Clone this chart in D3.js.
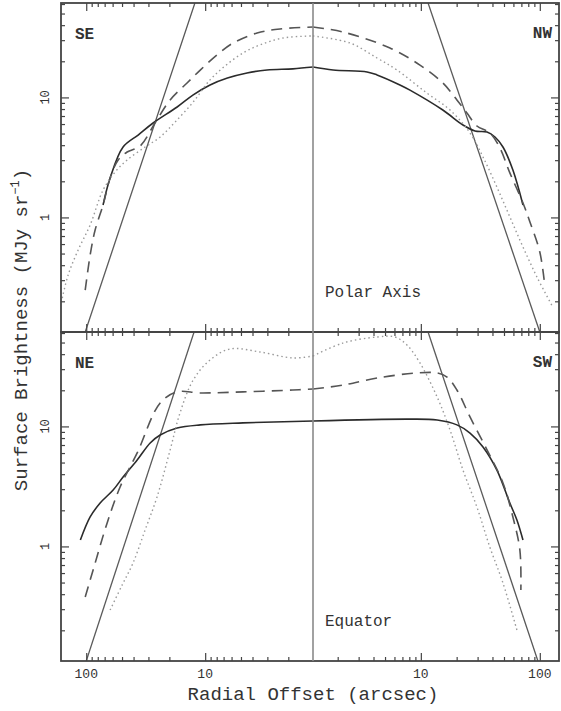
<!DOCTYPE html>
<html>
<head>
<meta charset="utf-8">
<script src="https://cdn.jsdelivr.net/npm/d3@7"></script>
<style>
  html, body { margin: 0; padding: 0; background: #fff; }
  svg { display: block; }
  text { font-family: "Liberation Mono", "DejaVu Sans Mono", monospace; fill: #333; }
</style>
</head>
<body>
<svg id="chart" width="561" height="711"></svg>
<script>
// ---------- DATA (radial offset arcsec, surface brightness MJy/sr) ----------
const xTickMajor = [10, 100];
const xTickLabels = ["10", "100"];
const yTickMajor = [1, 10];
const yTickLabels = ["1", "10"];
const panelNames = ["Polar Axis", "Equator"];
const sideNamesTop = ["SE", "NW"];
const sideNamesBottom = ["NE", "SW"];

// Polar axis, SE side (left)
const polarSolidSE = [[72.2,1.27],[63.0,2.13],[49.0,3.86],[36.6,4.86],[27.4,6.12],[17.2,8.32],[12.6,10.5],[9.1,12.7],[6.5,14.5],[4.45,16.0],[3.02,16.9],[1.83,17.3],[1.24,17.9]];
const polarDashedSE = [[102,0.248],[92.7,0.486],[84.2,0.785],[72.2,1.27],[63.0,2.13],[53.9,3.01],[45.3,3.51],[35.2,3.94],[26.4,6.12],[19.7,9.53],[14.2,13.2],[11.0,16.9],[7.94,22.6],[5.82,28.4],[3.66,34.4],[2.35,37.2],[1.24,38.6]];
const polarDottedSE = [[159,0.213],[142,0.331],[117,0.535],[92.7,0.865],[72.2,1.69],[57.2,2.39],[45.3,3.01],[32.0,3.86],[23.9,4.68],[17.9,6.24],[12.6,9.16],[9.1,14.0],[6.8,18.3],[4.8,23.5],[3.46,27.4],[2.21,31.3],[1.24,32.5]];
// Polar axis, NW side (right)
const polarSolidNW = [[1.24,17.9],[1.83,16.9],[3.53,16.3],[4.28,15.4],[6.67,12.7],[8.1,11.5],[15.3,7.85],[22.6,5.89],[28.5,5.25],[36.0,5.15],[42.0,4.68],[49.0,3.86],[59.4,2.48],[72.2,1.27]];
const polarDashedNW = [[1.24,38.6],[2.21,35.1],[5.5,25.8],[9.83,18.6],[15.3,13.2],[20.1,9.53],[24.4,7.41],[29.6,5.78],[38.0,5.06],[46.2,3.79],[56.0,2.35],[72.2,1.32],[82.6,0.917],[100,0.515],[110,0.274]];
const polarDottedNW = [[1.24,32.5],[2.54,28.4],[4.28,21.3],[6.3,16.9],[11.2,10.9],[17.6,7.85],[25.9,5.06],[33.3,3.19],[43.6,1.79],[56.0,1.01],[72.2,0.567],[94.6,0.319],[126,0.186]];
// Equator, NE side (left)
const eqSolidNE = [[112,1.13],[92.7,1.76],[76.4,2.30],[59.4,2.95],[49.0,3.79],[37.3,5.25],[29.0,7.28],[23.9,8.48],[17.2,9.7],[11.0,10.3],[4.8,10.7],[1.24,11.1]];
const eqDashedNE = [[102,0.379],[87.5,0.637],[66.7,1.57],[51.9,3.13],[37.3,6.01],[23.9,15.7],[17.2,19.4],[11.0,19.0],[4.8,19.4],[1.83,20.1],[1.24,20.5]];
const eqDottedNE = [[63.0,0.295],[49.9,0.477],[40.4,0.728],[32.0,1.37],[25.4,2.58],[19.7,6.37],[16.3,12.9],[12.6,24.4],[9.1,35.8],[6.18,44.2],[3.46,41.7],[1.83,37.2],[1.24,38.6]];
// Equator, SW side (right)
const eqSolidSW = [[1.24,11.1],[8.1,11.5],[13.7,11.3],[20.1,10.3],[25.9,8.81],[33.3,6.75],[43.6,4.33],[56.0,2.30],[64.2,1.66],[72.2,1.13]];
const eqDashedSW = [[1.24,20.5],[2.21,22.1],[4.28,25.3],[9.27,27.9],[13.7,27.9],[16.6,25.8],[20.1,20.1],[25.9,12.0],[36.0,6.37],[49.0,3.38],[59.4,1.76],[68.0,0.933],[69.3,0.434]];
const eqDottedSW = [[1.24,38.6],[2.21,49.5],[4.28,55.6],[6.06,55.6],[7.64,47.7],[9.83,33.8],[13.7,17.6],[17.6,9.33],[22.6,4.33],[29.6,2.13],[38.0,0.989],[49.0,0.496],[64.2,0.201]];
// Steep power-law reference line
const polarModelL = [[102,0.111],[12.2,61.2]];
const polarModelR = [[11.5,61.2],[100,0.111]];
const eqModelL = [[100,0.111],[12.4,61.2]];
const eqModelR = [[11.5,61.2],[96.4,0.111]];

// ---------- LAYOUT ----------
const svg = d3.select("#chart");
const L = 61, R = 559, C = 313;
const panels = [
  {top: 3, bottom: 332, name: panelNames[0], sides: sideNamesTop,
   left: [polarSolidSE, polarDashedSE, polarDottedSE], right: [polarSolidNW, polarDashedNW, polarDottedNW],
   model: [polarModelL, polarModelR]},
  {top: 332, bottom: 661, name: panelNames[1], sides: sideNamesBottom,
   left: [eqSolidNE, eqDashedNE, eqDottedNE], right: [eqSolidSW, eqDashedSW, eqDottedSW],
   model: [eqModelL, eqModelR]}
];

const r0 = 1.24;
const xL = d3.scaleLog().domain([r0, 163]).range([C, L]);
const xR = d3.scaleLog().domain([r0, 145]).range([C, R]);
const yDomain = [0.111, 61.2];

const xMinor = [2,3,4,5,6,7,8,9,20,30,40,50,60,70,80,90];
const yMinor = [0.2,0.3,0.4,0.5,0.6,0.7,0.8,0.9,2,3,4,5,6,7,8,9,20,30,40,50,60];

const styles = [
  {stroke: "#2b2b2b", width: 1.6, dash: null},
  {stroke: "#555", width: 1.6, dash: "11,7"},
  {stroke: "#9a9a9a", width: 1.4, dash: "1.5,3"}
];

function styleAxis(g) {
  g.select(".domain").remove();
  g.selectAll(".tick line").attr("stroke", "#444").attr("stroke-width", 1.2);
  g.selectAll(".tick text").remove();
}

panels.forEach((p, pi) => {
  const y = d3.scaleLog().domain(yDomain).range([p.bottom, p.top]);
  const clipId = "clip" + pi;
  svg.append("clipPath").attr("id", clipId).append("rect")
    .attr("x", L).attr("y", p.top).attr("width", R - L).attr("height", p.bottom - p.top);

  const g = svg.append("g").attr("clip-path", `url(#${clipId})`);

  // model lines
  p.model.forEach((m, si) => {
    const xs = si === 0 ? xL : xR;
    g.append("path").datum(m)
      .attr("d", d3.line().x(d => xs(d[0])).y(d => y(d[1])))
      .attr("fill", "none").attr("stroke", "#5a5a5a").attr("stroke-width", 1.3);
  });

  // data curves
  [[p.left, xL], [p.right, xR]].forEach(([series, xs]) => {
    series.forEach((s, k) => {
      const st = styles[k];
      g.append("path").datum(s)
        .attr("d", d3.line().x(d => xs(d[0])).y(d => y(d[1])).curve(d3.curveCatmullRom.alpha(0.5)))
        .attr("fill", "none").attr("stroke", st.stroke).attr("stroke-width", st.width)
        .attr("stroke-dasharray", st.dash);
    });
  });

  // ticks: x on top and bottom of panel, both sides
  [xL, xR].forEach(xs => {
    const top = svg.append("g").attr("transform", `translate(0,${p.top})`);
    top.call(d3.axisTop(xs).tickValues(xTickMajor).tickSize(-8)).call(styleAxis);
    top.append("g").call(d3.axisTop(xs).tickValues(xMinor).tickSize(-4)).call(styleAxis);
    const bot = svg.append("g").attr("transform", `translate(0,${p.bottom})`);
    bot.call(d3.axisBottom(xs).tickValues(xTickMajor).tickSize(-8)).call(styleAxis);
    bot.append("g").call(d3.axisBottom(xs).tickValues(xMinor).tickSize(-4)).call(styleAxis);
  });
  // y ticks left and right
  const la = svg.append("g").attr("transform", `translate(${L},0)`);
  la.call(d3.axisLeft(y).tickValues(yTickMajor).tickSize(-8)).call(styleAxis);
  la.append("g").call(d3.axisLeft(y).tickValues(yMinor).tickSize(-4)).call(styleAxis);
  const ra = svg.append("g").attr("transform", `translate(${R},0)`);
  ra.call(d3.axisRight(y).tickValues(yTickMajor).tickSize(-8)).call(styleAxis);
  ra.append("g").call(d3.axisRight(y).tickValues(yMinor).tickSize(-4)).call(styleAxis);

  // y tick labels (rotated)
  yTickMajor.forEach((v, i) => {
    svg.append("text")
      .attr("transform", `translate(${L - 12},${y(v)}) rotate(-90)`)
      .attr("text-anchor", "middle").attr("font-size", 12)
      .text(yTickLabels[i]);
  });

  // panel frame
  svg.append("rect").attr("x", L).attr("y", p.top).attr("width", R - L).attr("height", p.bottom - p.top)
    .attr("fill", "none").attr("stroke", "#444").attr("stroke-width", 1.8);

  // labels
  svg.append("text").attr("x", 75).attr("y", p.top + 36).attr("font-size", 16).attr("font-weight", "bold")
    .attr("fill", "#444").text(p.sides[0]);
  svg.append("text").attr("x", 552).attr("y", p.top + 35).attr("text-anchor", "end").attr("font-size", 16)
    .attr("font-weight", "bold").attr("fill", "#444").text(p.sides[1]);
  svg.append("text").attr("x", 325).attr("y", p.bottom - 35).attr("font-size", 16)
    .attr("fill", "#444").text(p.name);
});

// center vertical line
svg.append("line").attr("x1", C).attr("x2", C).attr("y1", 3).attr("y2", 661)
  .attr("stroke", "#8a8a8a").attr("stroke-width", 1.6);

// x tick labels
[xL, xR].forEach(xs => {
  xTickMajor.forEach((v, i) => {
    svg.append("text").attr("x", xs(v)).attr("y", 678).attr("text-anchor", "middle")
      .attr("font-size", 13).text(xTickLabels[i]);
  });
});

// axis titles
svg.append("text").attr("x", C).attr("y", 700).attr("text-anchor", "middle")
  .attr("font-size", 19).text("Radial Offset (arcsec)");

const yt = svg.append("text").attr("transform", "translate(27,330) rotate(-90)")
  .attr("text-anchor", "middle").attr("font-size", 19);
yt.append("tspan").text("Surface Brightness (MJy sr");
yt.append("tspan").attr("font-size", 12).attr("dy", -8).text("\u22121");
yt.append("tspan").attr("dy", 8).text(")");
</script>
</body>
</html>
